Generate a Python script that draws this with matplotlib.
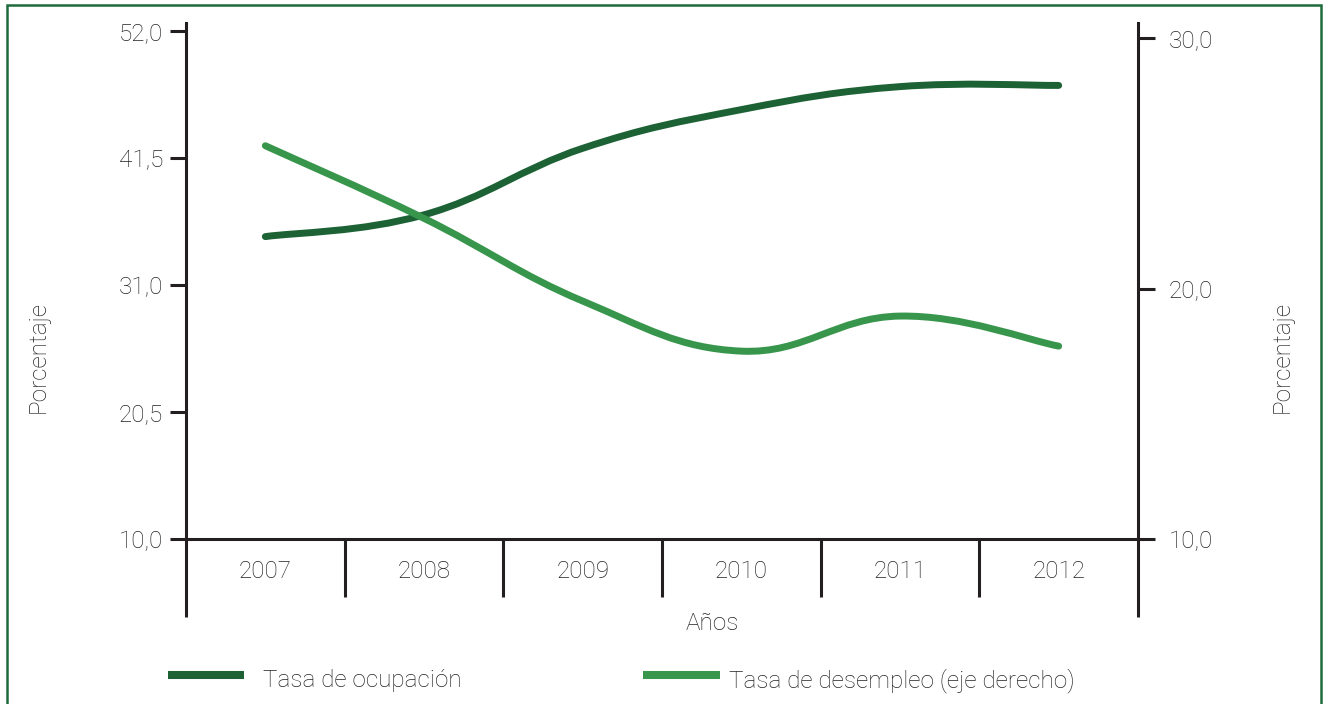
import matplotlib
matplotlib.use('Agg')
import matplotlib.pyplot as plt
import matplotlib.transforms as mtransforms
from matplotlib.path import Path
from matplotlib.patches import PathPatch, Rectangle
from matplotlib.lines import Line2D

plt.rcParams['font.family'] = ['Roboto', 'DejaVu Sans']
plt.rcParams['font.weight'] = 'light'

# data
years = ['2007', '2008', '2009', '2010', '2011', '2012']
ocupacion = [35.0, 36.8, 42.3, 45.5, 47.4, 47.5]
desempleo = [25.7, 22.8, 19.5, 17.5, 18.9, 17.7]
left_ticks = [10.0, 20.5, 31.0, 41.5, 52.0]
right_ticks = [10.0, 20.0, 30.0]

DARK = '#1c6234'
LIGHT = '#37964b'
INK = '#231f20'
TXT = '#232323'
FRAME = '#1e6b3a'
FS = 17.5
W, H = 1323, 704


def smooth_path(xs, ys, s=0.2):
    """Bezier path through the points (Catmull-Rom style smoothed line)."""
    n = len(xs)
    verts = [(xs[0], ys[0])]
    codes = [Path.MOVETO]
    for i in range(n - 1):
        x0, y0 = (xs[i - 1], ys[i - 1]) if i > 0 else (xs[i], ys[i])
        x3, y3 = (xs[i + 2], ys[i + 2]) if i + 2 < n else (xs[i + 1], ys[i + 1])
        c1 = (xs[i] + (xs[i + 1] - x0) * s, ys[i] + (ys[i + 1] - y0) * s)
        c2 = (xs[i + 1] - (x3 - xs[i]) * s, ys[i + 1] - (y3 - ys[i]) * s)
        verts += [c1, c2, (xs[i + 1], ys[i + 1])]
        codes += [Path.CURVE4] * 3
    return Path(verts, codes)


def fmt(v):
    return f'{v:.1f}'.replace('.', ',')


fig = plt.figure(figsize=(W / 100, H / 100), dpi=100)
ax = fig.add_axes([186 / W, 1 - 539 / H, (1138 - 186) / W, 516 / H])
ax2 = ax.twinx()

xs = list(range(len(years)))
ax.set_xlim(-0.5, len(years) - 0.5)
ax.set_ylim(10, 52.66)
ax2.set_ylim(10, 30.6)

ax.add_patch(PathPatch(smooth_path(xs, ocupacion), fill=False, edgecolor=DARK,
                       lw=5, capstyle='round', joinstyle='round'))
ax2.add_patch(PathPatch(smooth_path(xs, desempleo), fill=False, edgecolor=LIGHT,
                        lw=5, capstyle='round', joinstyle='round'))

for s in ['top', 'right']:
    ax.spines[s].set_visible(False)
for s in ['top', 'bottom', 'left']:
    ax2.spines[s].set_visible(False)
for sp in [ax.spines['left'], ax.spines['bottom'], ax2.spines['right']]:
    sp.set_linewidth(2.2)
    sp.set_color(INK)

ax.set_yticks(left_ticks, [fmt(v) for v in left_ticks])
ax2.set_yticks(right_ticks, [fmt(v) for v in right_ticks])
ax.tick_params(axis='y', direction='out', length=11.5, width=2.2, color=INK,
               pad=5, labelsize=FS, labelcolor=TXT)
ax2.tick_params(axis='y', direction='out', length=12, width=2.2, color=INK,
                pad=10, labelsize=FS, labelcolor=TXT)
ax.set_xticks([])

# category cells under the x axis
blend = mtransforms.blended_transform_factory(ax.transData, ax.transAxes)
for k in range(len(years) - 1):
    ax.plot([k + 0.5, k + 0.5], [0, -58 / 516], transform=blend, color=INK,
            lw=2.2, solid_capstyle='butt', clip_on=False)
for xe in [-0.5, len(years) - 0.5]:
    ax.plot([xe, xe], [0, -78 / 516], transform=blend, color=INK,
            lw=2.2, solid_capstyle='butt', clip_on=False)
for i, y in enumerate(years):
    ax.text(i, -32 / 516, y, transform=blend, ha='center', va='center',
            fontsize=FS, color=TXT)

fig.text(712 / W, 1 - 623 / H, 'Años', ha='center', va='center', fontsize=FS, color=TXT)
fig.text(38 / W, 1 - 357 / H, 'Porcentaje', ha='center', va='center', rotation=90,
         fontsize=FS, color=TXT)
fig.text(1282 / W, 1 - 357 / H, 'Porcentaje', ha='center', va='center', rotation=90,
         fontsize=FS, color=TXT)

# legend
leg = [(168, 244, 263, DARK, 'Tasa de ocupación'),
       (643, 720, 729, LIGHT, 'Tasa de desempleo (eje derecho)')]
for x0, x1, xt, c, lab in leg:
    fig.add_artist(Line2D([x0 / W, x1 / W], [1 - 675 / H] * 2, lw=5.8, color=c,
                          solid_capstyle='butt'))
    fig.text(xt / W, 1 - 687 / H, lab, ha='left', va='baseline', fontsize=FS, color=TXT)

# green frame, bottom edge runs off the picture
fig.add_artist(Rectangle((6.5 / W, -0.05), (1321 - 6.5) / W, 1.05 - 4.5 / H,
                         transform=fig.transFigure, fill=False, edgecolor=FRAME, lw=1.8))

fig.savefig('out.png', dpi=100)
